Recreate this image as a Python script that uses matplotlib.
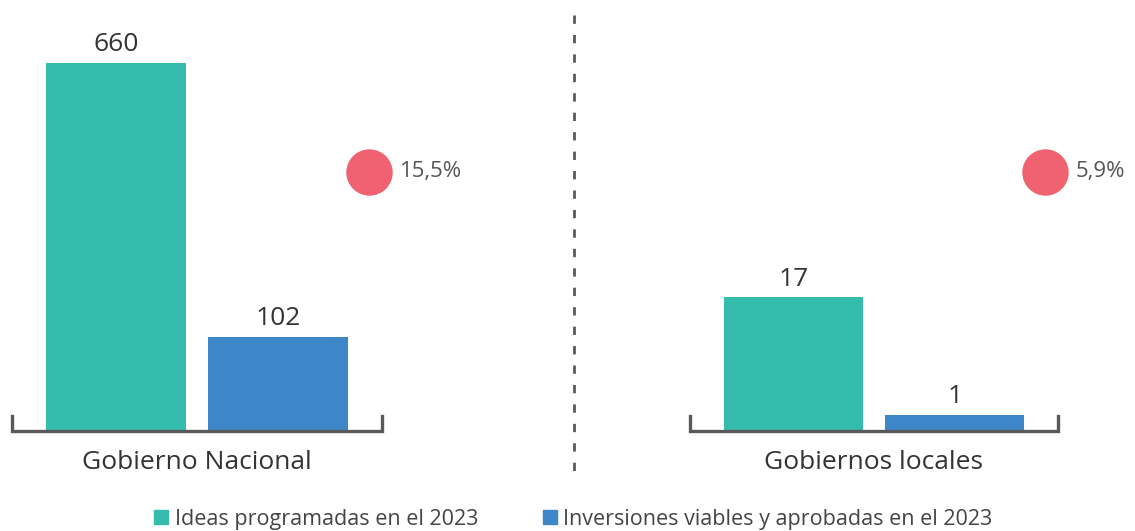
import matplotlib.pyplot as plt
from matplotlib.lines import Line2D
from matplotlib.patches import Patch

# datos
grupos = ['Gobierno Nacional', 'Gobiernos locales']
series = ['Ideas programadas en el 2023', 'Inversiones viables y aprobadas en el 2023']
ideas = [660, 17]
inversiones = [102, 1]
porcentajes = ['15,5%', '5,9%']

colores = ['#35BCAD', '#3D87C8']
rojo = '#F06270'
gris = '#595959'
texto = '#333333'

plt.rcParams['font.family'] = ['Open Sans', 'DejaVu Sans']

# base visual de cada panel (las barras parten de aqui) y tope del eje
pisos = [-89.5, -1.17]
topes = [788, 57.3]

fig = plt.figure(figsize=(11.35, 5.31), dpi=100)
posiciones = [[12 / 1135, 100 / 531, 370 / 1135, 431 / 531],
              [690 / 1135, 100 / 531, 368 / 1135, 431 / 531]]

for i in range(2):
    ax = fig.add_axes(posiciones[i])
    vals = [ideas[i], inversiones[i]]
    piso = pisos[i]
    for j, v in enumerate(vals):
        ax.bar(j, v - piso, bottom=piso, width=0.86, color=colores[j], zorder=2)
        ax.annotate(str(v), (j, v), xytext=(0, 4), textcoords='offset points',
                    ha='center', va='bottom', fontsize=19, color=texto)
    ax.set_xlim(-0.64, 1.64)
    ax.set_ylim(piso, topes[i])
    for s in ax.spines.values():
        s.set_visible(False)
    ax.set_xticks([])
    ax.set_yticks([])
    # corchete del eje x
    ax.plot([0, 0, 1, 1], [0.035, 0, 0, 0.035], transform=ax.transAxes,
            color=gris, lw=2.4, clip_on=False, solid_joinstyle='miter', zorder=3)
    ax.text(0.5, -0.072, grupos[i], transform=ax.transAxes, ha='center',
            va='center', fontsize=19, color=texto)
    # indicador de porcentaje
    ax.scatter([1.56], [0.601], s=1050, color=rojo, transform=ax.get_xaxis_transform(),
               clip_on=False, zorder=4)
    ax.text(1.75, 0.601, porcentajes[i], transform=ax.get_xaxis_transform(),
            ha='left', va='center', fontsize=16, color='#555555')

# separador punteado
fig.add_artist(Line2D([574 / 1135, 574 / 1135], [1 - 15 / 531, 1 - 472 / 531],
                      color=gris, lw=2, ls=(0, (3, 4))))

handles = [Patch(color=c) for c in colores]
fig.legend(handles, series, loc='center', bbox_to_anchor=(0.505, 12 / 531), ncol=2,
           frameon=False, fontsize=15.5, handlelength=0.65, handleheight=0.65,
           handletextpad=0.3, columnspacing=3.0, labelcolor='#444444')

fig.savefig('out.png', dpi=100)
